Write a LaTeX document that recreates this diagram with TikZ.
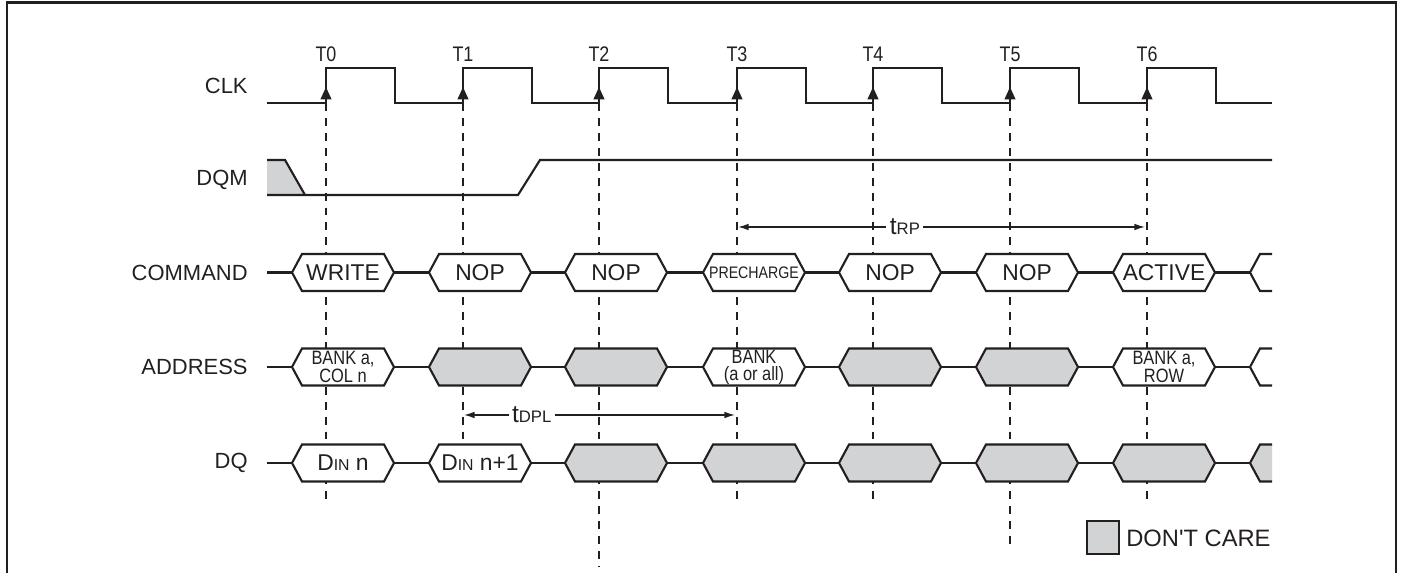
\documentclass[tikz,border=0pt]{standalone}
\usepackage{fontspec}
\setmainfont{Liberation Sans}
\newfontfamily\narrowsans{Liberation Sans}[FakeStretch=0.85]
\usetikzlibrary{arrows.meta}

\definecolor{sigink}{RGB}{35,31,32}
\definecolor{dcgray}{RGB}{209,211,212}

\tikzset{
	wave/.style={line width=1.2pt, draw=sigink, line join=miter},
	refline/.style={line width=0.8pt, draw=sigink, dash pattern=on 4.5pt off 4pt},
	hexbox/.style={wave, fill=white},
	dcbox/.style={wave, fill=dcgray},
	siglabel/.style={anchor=east, inner sep=0pt, text=sigink, font=\fontsize{12.5}{14}\selectfont},
	edgelabel/.style={inner sep=0pt, text=sigink, font=\narrowsans\fontsize{12}{12}\selectfont},
	boxtext/.style={inner sep=0pt, align=center, text=sigink, font=\fontsize{13}{14}\selectfont},
	twoline/.style={inner sep=0pt, align=center, text=sigink, font=\narrowsans\fontsize{11}{9.8}\selectfont},
	timearrow/.style={line width=0.8pt, draw=sigink, {Latex[length=6pt,width=3.8pt]}-{Latex[length=6pt,width=3.8pt]}},
}

\begin{document}
\begin{tikzpicture}[x=0.02cm, y=-0.02cm]
	\useasboundingbox (0,0) rectangle (1404,573);
	
	% Frame, open at the bottom
	\draw[line width=1.6pt, draw=sigink] (7,573) -- (7,2.5) -- (1396,2.5) -- (1396,573);
	
	%% REFERENCE LINES
	\foreach \x/\yend in {326/500, 463/444, 599/566, 737/500, 873/500, 1010/551, 1147/500}
	{
		\draw[refline] (\x,103) -- (\x,\yend);
	}
	
	%% CLK
	\node[siglabel] (clk) at (248,86) {CLK};
	\draw[wave] (267,103)
		\foreach \x in {326,463,599,737,873,1010,1147}
		{ -- (\x,103) -- (\x,68) -- (\x+69,68) -- (\x+69,103) }
		-- (1272,103);
	
	% Rising edges
	\foreach \x/\n in {326/0, 463/1, 599/2, 737/3, 873/4, 1010/5, 1147/6}
	{
		\draw[wave, -{Triangle[length=7pt,width=6pt]}] (\x,104) -- (\x,87);
		\node[edgelabel] (T\n) at (\x,54) {T\n};
	}
	
	%% DQM
	\node[siglabel] (dqm) at (248,180) {DQM};
	\fill[dcgray] (267,160) -- (285,160) -- (305,195) -- (267,195) -- cycle;
	\draw[wave] (267,160) -- (285,160) -- (305,195);
	\draw[wave] (267,195) -- (518,195) -- (540,160) -- (1272,160);
	
	%% TIMINGS
	% tRP
	\coordinate (rpstart) at (738,227);
	\coordinate (rpend) at (1145,227);
	\draw[timearrow] (rpstart) -- (rpend)
		node[pos=0.41, fill=white, inner xsep=2pt, inner ysep=1pt, text=sigink] (trp) {\fontsize{14}{14}\selectfont t\fontsize{9.5}{10}\selectfont RP};
	% tDPL
	\coordinate (dplstart) at (464,415);
	\coordinate (dplend) at (735,415);
	\draw[timearrow] (dplstart) -- (dplend)
		node[pos=0.25, fill=white, inner xsep=2pt, inner ysep=1pt, text=sigink] (tdpl) {\fontsize{14}{14}\selectfont t\fontsize{9.5}{10}\selectfont DPL};
	
	%% BUSES
	\begin{scope}
		\clip (260,0) rectangle (1272,573);
		
		% Main lines
		\foreach \y in {272.5, 367, 463}
		{
			\draw[wave] (267,\y) -- (1272,\y);
		}
		
		% Command
		\foreach \x/\kind/\txt [count=\i] in {326/hexbox/WRITE, 463/hexbox/NOP, 599/hexbox/NOP, 737/hexbox/{\narrowsans\fontsize{9.5}{10}\selectfont PRECHARGE}, 873/hexbox/NOP, 1010/hexbox/NOP, 1147/hexbox/ACTIVE, 1284/hexbox/{}}
		{
			\draw[\kind] (\x-34,272.5) -- ++(10,-18.5) -- ++(82,0) -- ++(10,18.5) -- ++(-10,18.5) -- ++(-82,0) -- cycle;
			\node[boxtext] (cmd\i) at (\x+17,272.5) {\txt};
		}
		
		% Address
		\foreach \x/\kind/\txt [count=\i] in {326/hexbox/{BANK a,\\COL n}, 463/dcbox/{}, 599/dcbox/{}, 737/hexbox/{BANK\\(a or all)}, 873/dcbox/{}, 1010/dcbox/{}, 1147/hexbox/{BANK a,\\ROW}, 1284/hexbox/{}}
		{
			\draw[\kind] (\x-34,367) -- ++(10,-18.5) -- ++(82,0) -- ++(10,18.5) -- ++(-10,18.5) -- ++(-82,0) -- cycle;
			\node[twoline] (addr\i) at (\x+17,367) {\txt};
		}
		
		% Data
		\foreach \x/\kind/\txt [count=\i] in {326/hexbox/{D{\fontsize{9}{9}\selectfont IN} n}, 463/hexbox/{D{\fontsize{9}{9}\selectfont IN} n+1}, 599/dcbox/{}, 737/dcbox/{}, 873/dcbox/{}, 1010/dcbox/{}, 1147/dcbox/{}, 1284/dcbox/{}}
		{
			\draw[\kind] (\x-34,463) -- ++(10,-18.5) -- ++(82,0) -- ++(10,18.5) -- ++(-10,18.5) -- ++(-82,0) -- cycle;
			\node[boxtext] (dq\i) at (\x+17,463) {\txt};
		}
	\end{scope}
	
	% Bus names
	\node[siglabel] (command) at (248,272.5) {COMMAND};
	\node[siglabel] (address) at (248,367) {ADDRESS};
	\node[siglabel] (dq) at (248,463) {DQ};
	
	%% LEGEND
	\draw[dcbox] (1087,521) rectangle (1119,554);
	\node[anchor=west, inner sep=0pt, text=sigink, font=\fontsize{13.5}{14}\selectfont] (dontcare) at (1126,538) {DON\textquotesingle T CARE};
	
\end{tikzpicture}
\end{document}
